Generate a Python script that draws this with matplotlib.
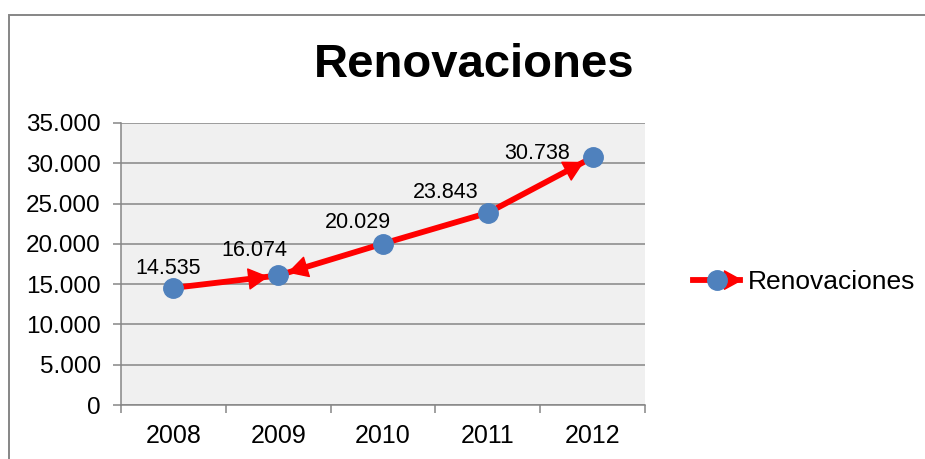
import matplotlib.pyplot as plt
from matplotlib.legend_handler import HandlerLine2D
from matplotlib.lines import Line2D
from matplotlib.patches import FancyArrowPatch, Rectangle
from matplotlib.ticker import FuncFormatter, MultipleLocator

years = ["2008", "2009", "2010", "2011", "2012"]
renovaciones = [14535, 16074, 20029, 23843, 30738]

plt.rcParams['font.family'] = ['Liberation Sans', 'DejaVu Sans']

RED = "#ff0000"
BLUE = "#4f81bd"
GRID = "#868686"
HEAD = "-|>,head_length=0.55,head_width=0.3"


class ArrowLineHandler(HandlerLine2D):
    # legend key: red line, blue marker, arrow head on the right
    def create_artists(self, legend, orig_handle, xdescent, ydescent, width, height, fontsize, trans):
        artists = super().create_artists(legend, orig_handle, xdescent, ydescent, width, height, fontsize, trans)
        y = height / 2 - ydescent
        arrow = FancyArrowPatch((width * 0.5 - xdescent, y), (width * 1.05 - xdescent, y),
                                arrowstyle=HEAD, mutation_scale=22, color=RED, lw=1,
                                shrinkA=0, shrinkB=0, transform=trans)
        return [arrow] + artists


fig = plt.figure(figsize=(9.25, 4.59), dpi=100)
ax = fig.add_axes([121 / 925, 1 - 405 / 459, 524 / 925, 282 / 459])

# outer chart frame (only top and left visible)
fig.add_artist(Rectangle((9 / 925, -0.1), 1.2, 1.1 - 15 / 459, transform=fig.transFigure,
                         fill=False, edgecolor=GRID, lw=1.4))

x = list(range(len(years)))
ax.plot(x, renovaciones, color=RED, lw=4.2, zorder=2, solid_capstyle="butt")
ax.plot(x, renovaciones, ls="none", marker="o", markersize=14,
        markerfacecolor=BLUE, markeredgecolor=BLUE, zorder=4)

# arrow heads along the line
for a, b in [(0, 1), (2, 1), (3, 4)]:
    ax.annotate("", xy=(x[b], renovaciones[b]), xytext=(x[a], renovaciones[a]),
                arrowprops=dict(arrowstyle=HEAD, color=RED, lw=1, mutation_scale=24,
                                shrinkA=0, shrinkB=7),
                zorder=3)

label_offsets = [(-4, 14), (-17, 18), (-18, 15), (-30, 15), (-40, 3)]
for xi, v, off in zip(x, renovaciones, label_offsets):
    ax.annotate(f"{v:,}".replace(",", "."), (xi, v), xytext=off, textcoords="offset points",
                ha="center", va="center", fontsize=15.5)

ax.set_xlim(-0.5, len(years) - 0.5)
ax.set_ylim(0, 35000)
ax.set_xticks(x)
ax.set_xticklabels(years)
ax.set_xticks([i - 0.5 for i in range(len(years) + 1)], minor=True)
ax.tick_params(axis="x", which="major", length=0, pad=14, labelsize=18)
ax.tick_params(axis="x", which="minor", length=5.5, width=1.1, color=GRID)
ax.yaxis.set_major_locator(MultipleLocator(5000))
ax.yaxis.set_major_formatter(FuncFormatter(lambda v, p: f"{int(v):,}".replace(",", ".")))
ax.tick_params(axis="y", length=5.5, width=1.1, color=GRID, pad=9, labelsize=17.5)

ax.set_facecolor("#f0f0f0")
ax.grid(axis="y", color=GRID, lw=1.1)
ax.set_axisbelow(True)
for s in ["top", "right"]:
    ax.spines[s].set_visible(False)
for s in ["left", "bottom"]:
    ax.spines[s].set_color(GRID)
    ax.spines[s].set_linewidth(1.1)

fig.text(474 / 925, 1 - 65 / 459, "Renovaciones", ha="center", va="center",
         fontsize=34, fontweight="bold")

key = Line2D([], [], color=RED, lw=4.2, marker="o", markersize=14,
             markerfacecolor=BLUE, markeredgecolor=BLUE)
ax.legend(handles=[key], labels=["Renovaciones"], handler_map={key: ArrowLineHandler()},
          loc="center left", bbox_to_anchor=(1.046, 0.435), frameon=False, fontsize=19,
          handlelength=1.8, handletextpad=0.3)

fig.savefig("out.png", dpi=100)
